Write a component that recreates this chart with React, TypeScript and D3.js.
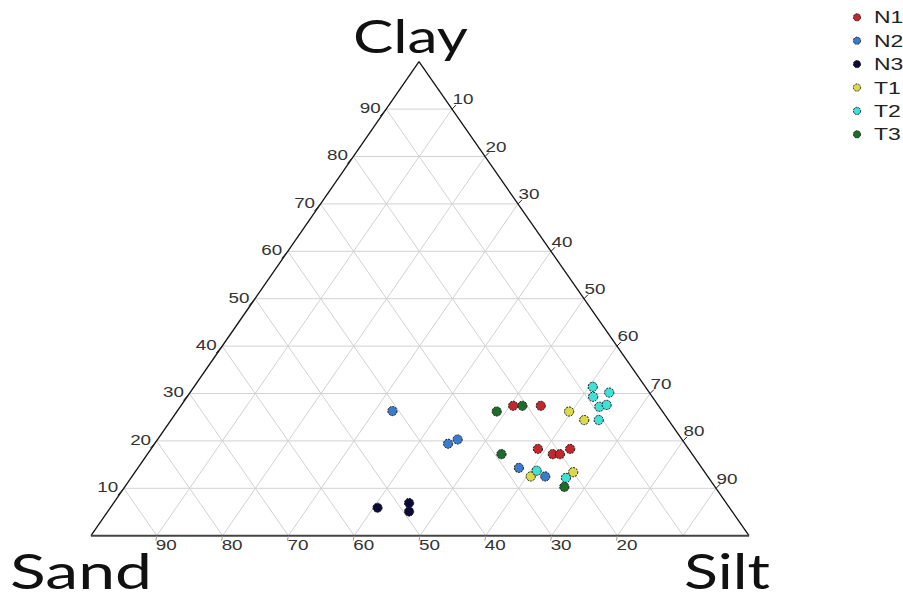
import React from "react";
import * as d3 from "d3";

// Series data (percentages)
const seriesNames = ["N1", "N2", "N3", "T1", "T2", "T3"];
const seriesColors = ["#c1272d", "#3b7bcc", "#0b0b36", "#d9d94a", "#3fe0d6", "#1e6b2b"];

const n1Sand = [22.1, 17.9, 22.9, 21.2, 20.1, 18.0];
const n1Silt = [50.5, 54.7, 58.8, 61.6, 62.7, 63.7];
const n1Clay = [27.4, 27.4, 18.3, 17.2, 17.2, 18.3];

const n2Sand = [41.0, 36.0, 34.1, 27.8, 24.7];
const n2Silt = [32.7, 44.6, 45.6, 57.9, 62.8];
const n2Clay = [26.3, 19.4, 20.3, 14.3, 12.5];

const n3Sand = [53.5, 48.2, 49.1];
const n3Silt = [40.6, 44.9, 45.8];
const n3Clay = [5.9, 6.9, 5.1];

const t1Sand = [14.2, 12.8, 26.9, 20.0];
const t1Silt = [59.6, 62.8, 60.6, 66.6];
const t1Clay = [26.2, 24.4, 12.5, 13.4];

const t2Sand = [8.0, 9.0, 6.1, 9.1, 7.8, 10.6, 25.4, 21.7];
const t2Silt = [60.6, 61.7, 63.7, 63.7, 64.6, 65.0, 60.9, 66.1];
const t2Clay = [31.4, 29.3, 30.2, 27.2, 27.6, 24.4, 13.7, 12.2];

const t3Sand = [25.2, 20.7, 29.0, 22.9];
const t3Silt = [48.6, 51.9, 53.8, 66.8];
const t3Clay = [26.2, 27.4, 17.2, 10.3];

const leftTicks = [10, 20, 30, 40, 50, 60, 70, 80, 90]; // clay
const rightTicks = [10, 20, 30, 40, 50, 60, 70, 80, 90]; // silt
const bottomTicks = [90, 80, 70, 60, 50, 40, 30, 20]; // sand
const gridLevels = [10, 20, 30, 40, 50, 60, 70, 80, 90];

const allSeries = [
  { sand: n1Sand, silt: n1Silt, clay: n1Clay },
  { sand: n2Sand, silt: n2Silt, clay: n2Clay },
  { sand: n3Sand, silt: n3Silt, clay: n3Clay },
  { sand: t1Sand, silt: t1Silt, clay: t1Clay },
  { sand: t2Sand, silt: t2Silt, clay: t2Clay },
  { sand: t3Sand, silt: t3Silt, clay: t3Clay },
];

const W = 903;
const H = 598;
const L = { x: 91, y: 535.7 };
const R = { x: 749, y: 535.7 };
const A = { x: 419, y: 61.7 };

// Scales
const clayY = d3.scaleLinear().domain([0, 100]).range([L.y, A.y]);
const siltX = d3.scaleLinear().domain([0, 100]).range([0, R.x - L.x]);
const clayX = d3.scaleLinear().domain([0, 100]).range([0, A.x - L.x]);

function project(sand: number, silt: number, clay: number): [number, number] {
  const tot = sand + silt + clay;
  const s = (silt / tot) * 100;
  const c = (clay / tot) * 100;
  return [L.x + siltX(s) + clayX(c), clayY(c)];
}

const tickFont = "'Liberation Sans', Arial, sans-serif";
const titleFont = "Lato, 'Open Sans', sans-serif";
const SX = 1.3;

function TickLabel({ cx, cy, label }: { cx: number; cy: number; label: number }) {
  return (
    <text
      transform={`translate(${cx},${cy + 5.3}) scale(${SX},1)`}
      textAnchor="middle"
      fontFamily={tickFont}
      fontSize={14.5}
      fill="#333"
    >
      {label}
    </text>
  );
}

export default function App() {
  const lines: { x1: number; y1: number; x2: number; y2: number }[] = [];
  gridLevels.forEach((v) => {
    const a = project(100 - v, 0, v);
    const b = project(0, 100 - v, v);
    lines.push({ x1: a[0], y1: a[1], x2: b[0], y2: b[1] });
    const c = project(100 - v, v, 0);
    const d = project(0, v, 100 - v);
    lines.push({ x1: c[0], y1: c[1], x2: d[0], y2: d[1] });
    const e = project(v, 100 - v, 0);
    const f = project(v, 0, 100 - v);
    lines.push({ x1: e[0], y1: e[1], x2: f[0], y2: f[1] });
  });

  return (
    <svg
      width={W}
      height={H}
      style={{ position: "absolute", left: 0, top: 0, background: "#fff" }}
    >
      <rect x={0} y={0} width={W} height={H} fill="#fff" />
      <g>
        {lines.map((l, i) => (
          <line key={i} {...l} stroke="#d2d2d2" strokeWidth={1} />
        ))}
      </g>
      <line x1={L.x} y1={L.y} x2={A.x} y2={A.y} stroke="#111" strokeWidth={1.3} />
      <line x1={A.x} y1={A.y} x2={R.x} y2={R.y} stroke="#111" strokeWidth={1.3} />
      <line x1={L.x} y1={L.y} x2={R.x} y2={R.y} stroke="#444" strokeWidth={2} />

      {leftTicks.map((v) => {
        const [x, y] = project(100 - v, 0, v);
        return (
          <g key={"l" + v}>
            <line x1={x} y1={y} x2={x - 6} y2={y + 7} stroke="#222" strokeWidth={1} />
            <TickLabel cx={x - 16} cy={y - 1.5} label={v} />
          </g>
        );
      })}
      {rightTicks.map((v) => {
        const [x, y] = project(0, v, 100 - v);
        return (
          <g key={"r" + v}>
            <line x1={x} y1={y} x2={x + 4} y2={y - 4} stroke="#222" strokeWidth={1} />
            <TickLabel cx={x + 11} cy={y - 10} label={v} />
          </g>
        );
      })}
      {bottomTicks.map((v) => {
        const [x, y] = project(v, 100 - v, 0);
        return (
          <g key={"b" + v}>
            <line x1={x} y1={y} x2={x - 1} y2={y + 5} stroke="#999" strokeWidth={1} />
            <TickLabel cx={x + 9.5} cy={y + 9.3} label={v} />
          </g>
        );
      })}

      {allSeries.map((s, si) => (
        <g key={"s" + si}>
          {s.sand.map((_, i) => {
            const [x, y] = project(s.sand[i], s.silt[i], s.clay[i]);
            return (
              <circle
                key={i}
                cx={x}
                cy={y}
                r={4.6}
                fill={seriesColors[si]}
                stroke="#1a1a1a"
                strokeWidth={1}
                strokeDasharray="2,1"
              />
            );
          })}
        </g>
      ))}

      <text x={353} y={53} fontFamily={titleFont} fontSize={46} fill="#111" textLength={115} lengthAdjust="spacingAndGlyphs">
        Clay
      </text>
      <text x={10} y={589} fontFamily={titleFont} fontSize={49} fill="#111" textLength={142} lengthAdjust="spacingAndGlyphs">
        Sand
      </text>
      <text x={684} y={589} fontFamily={titleFont} fontSize={49} fill="#111" textLength={86} lengthAdjust="spacingAndGlyphs">
        Silt
      </text>

      {seriesNames.map((n, i) => {
        const y = 17.3 + i * 23.4;
        return (
          <g key={"lg" + n}>
            <circle cx={857} cy={y} r={3.6} fill={seriesColors[i]} stroke="#1a1a1a" strokeWidth={0.9} strokeDasharray="2,1" />
            <text
              transform={`translate(874,${y + 6}) scale(1.35,1)`}
              fontFamily={tickFont}
              fontSize={17}
              fill="#222"
            >
              {n}
            </text>
          </g>
        );
      })}
    </svg>
  );
}
